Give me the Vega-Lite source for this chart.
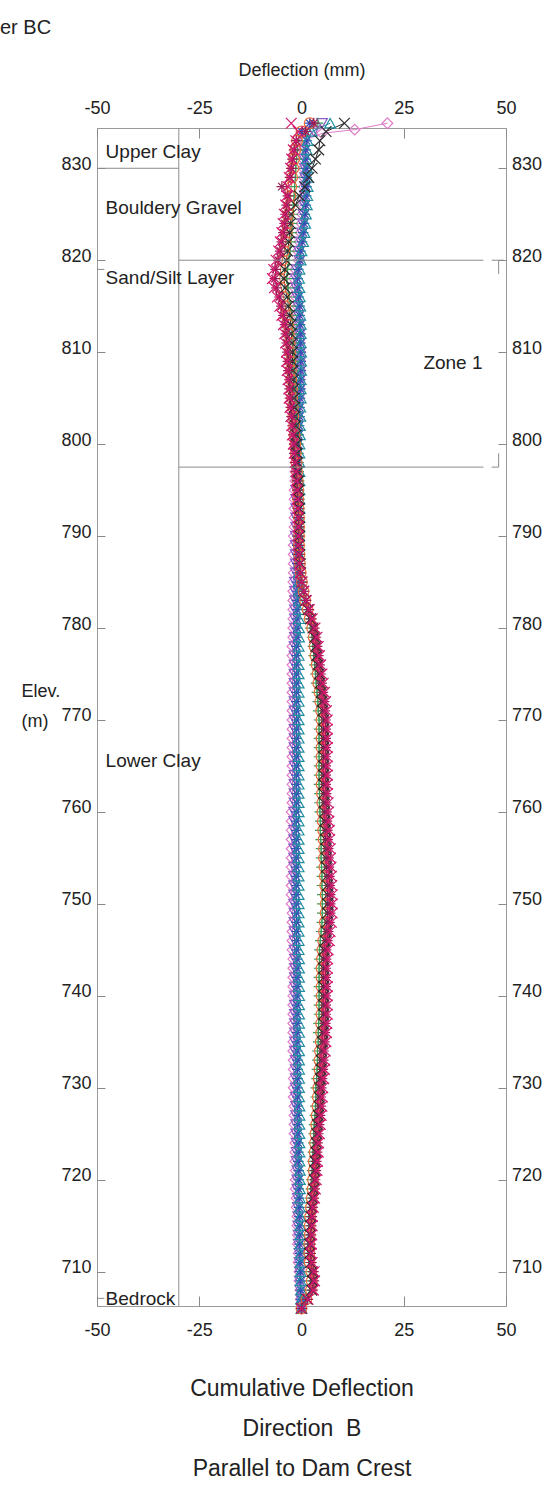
{
"$schema":"https://vega.github.io/schema/vega-lite/v6.json",
"autosize":{"type":"none"},
"padding":{"left":97,"top":128,"right":49,"bottom":185},
"width":409,
"height":1178,
"title":{"text":"er BC","anchor":"start","frame":"group","dx":-97,"offset":7,"fontSize":20,"fontWeight":"normal","font":"Liberation Sans","color":"#222","baseline":"alphabetic"},
"config":{"view":{"stroke":"#9a9a9a","strokeWidth":1},"font":"Liberation Sans"},
"data":{"values":[
{"s":"A","e":706,"d":0},{"s":"A","e":707,"d":-0.2},{"s":"A","e":708,"d":-0.3},{"s":"A","e":709,"d":-0.5},{"s":"A","e":710,"d":-0.5},{"s":"A","e":711,"d":-0.7},{"s":"A","e":712,"d":-0.7},{"s":"A","e":713,"d":-0.9},{"s":"A","e":714,"d":-0.9},{"s":"A","e":715,"d":-1.0},{"s":"A","e":716,"d":-1.0},{"s":"A","e":717,"d":-1.2},{"s":"A","e":718,"d":-1.2},{"s":"A","e":719,"d":-1.4},{"s":"A","e":720,"d":-1.4},{"s":"A","e":721,"d":-1.4},{"s":"A","e":722,"d":-1.5},{"s":"A","e":723,"d":-1.5},{"s":"A","e":724,"d":-1.5},{"s":"A","e":725,"d":-1.7},{"s":"A","e":726,"d":-1.7},{"s":"A","e":727,"d":-1.7},{"s":"A","e":728,"d":-1.7},{"s":"A","e":729,"d":-1.9},{"s":"A","e":730,"d":-1.9},{"s":"A","e":731,"d":-1.9},{"s":"A","e":732,"d":-1.9},{"s":"A","e":733,"d":-1.9},{"s":"A","e":734,"d":-2.0},{"s":"A","e":735,"d":-2.0},{"s":"A","e":736,"d":-2.0},{"s":"A","e":737,"d":-2.0},{"s":"A","e":738,"d":-2.0},{"s":"A","e":739,"d":-2.0},{"s":"A","e":740,"d":-2.0},{"s":"A","e":741,"d":-2.0},{"s":"A","e":742,"d":-2.0},{"s":"A","e":743,"d":-2.0},{"s":"A","e":744,"d":-2.0},{"s":"A","e":745,"d":-2.2},{"s":"A","e":746,"d":-2.2},{"s":"A","e":747,"d":-2.2},{"s":"A","e":748,"d":-2.2},{"s":"A","e":749,"d":-2.2},{"s":"A","e":750,"d":-2.4},{"s":"A","e":751,"d":-2.4},{"s":"A","e":752,"d":-2.4},{"s":"A","e":753,"d":-2.4},{"s":"A","e":754,"d":-2.4},{"s":"A","e":755,"d":-2.4},{"s":"A","e":756,"d":-2.4},{"s":"A","e":757,"d":-2.4},{"s":"A","e":758,"d":-2.4},{"s":"A","e":759,"d":-2.4},{"s":"A","e":760,"d":-2.4},{"s":"A","e":761,"d":-2.2},{"s":"A","e":762,"d":-2.2},{"s":"A","e":763,"d":-2.2},{"s":"A","e":764,"d":-2.2},{"s":"A","e":765,"d":-2.2},{"s":"A","e":766,"d":-2.2},{"s":"A","e":767,"d":-2.2},{"s":"A","e":768,"d":-2.2},{"s":"A","e":769,"d":-2.2},{"s":"A","e":770,"d":-2.2},{"s":"A","e":771,"d":-2.2},{"s":"A","e":772,"d":-2.2},{"s":"A","e":773,"d":-2.2},{"s":"A","e":774,"d":-2.2},{"s":"A","e":775,"d":-2.2},{"s":"A","e":776,"d":-2.2},{"s":"A","e":777,"d":-2.2},{"s":"A","e":778,"d":-2.2},{"s":"A","e":779,"d":-2.0},{"s":"A","e":780,"d":-2.0},{"s":"A","e":781,"d":-2.0},{"s":"A","e":782,"d":-2.0},{"s":"A","e":783,"d":-2.0},{"s":"A","e":784,"d":-2.0},{"s":"A","e":785,"d":-2.0},{"s":"A","e":786,"d":-1.9},{"s":"A","e":787,"d":-1.9},{"s":"A","e":788,"d":-1.9},{"s":"A","e":789,"d":-1.9},{"s":"A","e":790,"d":-1.9},{"s":"A","e":791,"d":-1.7},{"s":"A","e":792,"d":-1.7},{"s":"A","e":793,"d":-1.7},{"s":"A","e":794,"d":-1.7},{"s":"A","e":795,"d":-1.7},{"s":"A","e":796,"d":-1.5},{"s":"A","e":797,"d":-1.5},{"s":"A","e":798,"d":-1.5},{"s":"A","e":799,"d":-1.5},{"s":"A","e":800,"d":-1.5},{"s":"A","e":801,"d":-1.4},{"s":"A","e":802,"d":-1.2},{"s":"A","e":803,"d":-1.0},{"s":"A","e":804,"d":-0.9},{"s":"A","e":805,"d":-0.7},{"s":"A","e":806,"d":-0.5},{"s":"A","e":807,"d":-0.5},{"s":"A","e":808,"d":-0.3},{"s":"A","e":809,"d":-0.3},{"s":"A","e":810,"d":-0.3},{"s":"A","e":811,"d":-0.5},{"s":"A","e":812,"d":-0.5},{"s":"A","e":813,"d":-0.7},{"s":"A","e":814,"d":-0.9},{"s":"A","e":815,"d":-1.0},{"s":"A","e":816,"d":-1.4},{"s":"A","e":817,"d":-1.7},{"s":"A","e":818,"d":-1.9},{"s":"A","e":819,"d":-1.5},{"s":"A","e":820,"d":-0.7},{"s":"A","e":821,"d":-0.9},{"s":"A","e":822,"d":-0.5},{"s":"A","e":823,"d":-0.2},{"s":"A","e":824,"d":0},{"s":"A","e":825,"d":0.2},{"s":"A","e":826,"d":0.4},{"s":"A","e":827,"d":0.5},{"s":"A","e":828,"d":0.6},{"s":"A","e":829,"d":0.6},{"s":"A","e":830,"d":0.5},{"s":"A","e":831,"d":0.4},{"s":"A","e":832,"d":0.4},{"s":"A","e":833,"d":0.6},{"s":"A","e":833.8,"d":5},{"s":"A","e":834.2,"d":13},{"s":"A","e":834.9,"d":21},
{"s":"B","e":706,"d":0},{"s":"B","e":707,"d":-0.1},{"s":"B","e":708,"d":-0.3},{"s":"B","e":709,"d":-0.4},{"s":"B","e":710,"d":-0.4},{"s":"B","e":711,"d":-0.5},{"s":"B","e":712,"d":-0.5},{"s":"B","e":713,"d":-0.7},{"s":"B","e":714,"d":-0.7},{"s":"B","e":715,"d":-0.8},{"s":"B","e":716,"d":-0.8},{"s":"B","e":717,"d":-0.9},{"s":"B","e":718,"d":-0.9},{"s":"B","e":719,"d":-1.0},{"s":"B","e":720,"d":-1.0},{"s":"B","e":721,"d":-1.0},{"s":"B","e":722,"d":-1.2},{"s":"B","e":723,"d":-1.2},{"s":"B","e":724,"d":-1.2},{"s":"B","e":725,"d":-1.3},{"s":"B","e":726,"d":-1.3},{"s":"B","e":727,"d":-1.3},{"s":"B","e":728,"d":-1.3},{"s":"B","e":729,"d":-1.4},{"s":"B","e":730,"d":-1.4},{"s":"B","e":731,"d":-1.4},{"s":"B","e":732,"d":-1.4},{"s":"B","e":733,"d":-1.4},{"s":"B","e":734,"d":-1.6},{"s":"B","e":735,"d":-1.6},{"s":"B","e":736,"d":-1.6},{"s":"B","e":737,"d":-1.6},{"s":"B","e":738,"d":-1.6},{"s":"B","e":739,"d":-1.6},{"s":"B","e":740,"d":-1.6},{"s":"B","e":741,"d":-1.6},{"s":"B","e":742,"d":-1.6},{"s":"B","e":743,"d":-1.6},{"s":"B","e":744,"d":-1.6},{"s":"B","e":745,"d":-1.7},{"s":"B","e":746,"d":-1.7},{"s":"B","e":747,"d":-1.7},{"s":"B","e":748,"d":-1.7},{"s":"B","e":749,"d":-1.7},{"s":"B","e":750,"d":-1.8},{"s":"B","e":751,"d":-1.8},{"s":"B","e":752,"d":-1.8},{"s":"B","e":753,"d":-1.8},{"s":"B","e":754,"d":-1.8},{"s":"B","e":755,"d":-1.8},{"s":"B","e":756,"d":-1.8},{"s":"B","e":757,"d":-1.8},{"s":"B","e":758,"d":-1.8},{"s":"B","e":759,"d":-1.8},{"s":"B","e":760,"d":-1.8},{"s":"B","e":761,"d":-1.7},{"s":"B","e":762,"d":-1.7},{"s":"B","e":763,"d":-1.7},{"s":"B","e":764,"d":-1.7},{"s":"B","e":765,"d":-1.7},{"s":"B","e":766,"d":-1.7},{"s":"B","e":767,"d":-1.7},{"s":"B","e":768,"d":-1.7},{"s":"B","e":769,"d":-1.7},{"s":"B","e":770,"d":-1.7},{"s":"B","e":771,"d":-1.7},{"s":"B","e":772,"d":-1.7},{"s":"B","e":773,"d":-1.7},{"s":"B","e":774,"d":-1.7},{"s":"B","e":775,"d":-1.7},{"s":"B","e":776,"d":-1.7},{"s":"B","e":777,"d":-1.7},{"s":"B","e":778,"d":-1.7},{"s":"B","e":779,"d":-1.6},{"s":"B","e":780,"d":-1.6},{"s":"B","e":781,"d":-1.6},{"s":"B","e":782,"d":-1.6},{"s":"B","e":783,"d":-1.6},{"s":"B","e":784,"d":-1.6},{"s":"B","e":785,"d":-1.6},{"s":"B","e":786,"d":-1.4},{"s":"B","e":787,"d":-1.4},{"s":"B","e":788,"d":-1.4},{"s":"B","e":789,"d":-1.4},{"s":"B","e":790,"d":-1.4},{"s":"B","e":791,"d":-1.3},{"s":"B","e":792,"d":-1.3},{"s":"B","e":793,"d":-1.3},{"s":"B","e":794,"d":-1.3},{"s":"B","e":795,"d":-1.3},{"s":"B","e":796,"d":-1.2},{"s":"B","e":797,"d":-1.2},{"s":"B","e":798,"d":-1.2},{"s":"B","e":799,"d":-1.2},{"s":"B","e":800,"d":-1.2},{"s":"B","e":801,"d":-1.0},{"s":"B","e":802,"d":-0.9},{"s":"B","e":803,"d":-0.8},{"s":"B","e":804,"d":-0.7},{"s":"B","e":805,"d":-0.5},{"s":"B","e":806,"d":-0.4},{"s":"B","e":807,"d":-0.4},{"s":"B","e":808,"d":-0.3},{"s":"B","e":809,"d":-0.3},{"s":"B","e":810,"d":-0.3},{"s":"B","e":811,"d":-0.4},{"s":"B","e":812,"d":-0.4},{"s":"B","e":813,"d":-0.5},{"s":"B","e":814,"d":-0.7},{"s":"B","e":815,"d":-0.8},{"s":"B","e":816,"d":-1.0},{"s":"B","e":817,"d":-1.3},{"s":"B","e":818,"d":-1.4},{"s":"B","e":819,"d":-1.2},{"s":"B","e":820,"d":-0.5},{"s":"B","e":821,"d":-0.6},{"s":"B","e":822,"d":-0.2},{"s":"B","e":823,"d":0.1},{"s":"B","e":824,"d":0.3},{"s":"B","e":825,"d":0.5},{"s":"B","e":826,"d":0.7},{"s":"B","e":827,"d":0.8},{"s":"B","e":828,"d":0.9},{"s":"B","e":829,"d":0.9},{"s":"B","e":830,"d":0.8},{"s":"B","e":831,"d":0.7},{"s":"B","e":832,"d":0.7},{"s":"B","e":833,"d":0.9},{"s":"B","e":834,"d":3},{"s":"B","e":834.9,"d":5},
{"s":"C","e":706,"d":0},{"s":"C","e":707,"d":-0.1},{"s":"C","e":708,"d":-0.2},{"s":"C","e":709,"d":-0.3},{"s":"C","e":710,"d":-0.3},{"s":"C","e":711,"d":-0.4},{"s":"C","e":712,"d":-0.4},{"s":"C","e":713,"d":-0.5},{"s":"C","e":714,"d":-0.5},{"s":"C","e":715,"d":-0.5},{"s":"C","e":716,"d":-0.5},{"s":"C","e":717,"d":-0.6},{"s":"C","e":718,"d":-0.6},{"s":"C","e":719,"d":-0.7},{"s":"C","e":720,"d":-0.7},{"s":"C","e":721,"d":-0.7},{"s":"C","e":722,"d":-0.8},{"s":"C","e":723,"d":-0.8},{"s":"C","e":724,"d":-0.8},{"s":"C","e":725,"d":-0.9},{"s":"C","e":726,"d":-0.9},{"s":"C","e":727,"d":-0.9},{"s":"C","e":728,"d":-0.9},{"s":"C","e":729,"d":-1.0},{"s":"C","e":730,"d":-1.0},{"s":"C","e":731,"d":-1.0},{"s":"C","e":732,"d":-1.0},{"s":"C","e":733,"d":-1.0},{"s":"C","e":734,"d":-1.1},{"s":"C","e":735,"d":-1.1},{"s":"C","e":736,"d":-1.1},{"s":"C","e":737,"d":-1.1},{"s":"C","e":738,"d":-1.1},{"s":"C","e":739,"d":-1.1},{"s":"C","e":740,"d":-1.1},{"s":"C","e":741,"d":-1.1},{"s":"C","e":742,"d":-1.1},{"s":"C","e":743,"d":-1.1},{"s":"C","e":744,"d":-1.1},{"s":"C","e":745,"d":-1.2},{"s":"C","e":746,"d":-1.2},{"s":"C","e":747,"d":-1.2},{"s":"C","e":748,"d":-1.2},{"s":"C","e":749,"d":-1.2},{"s":"C","e":750,"d":-1.3},{"s":"C","e":751,"d":-1.3},{"s":"C","e":752,"d":-1.3},{"s":"C","e":753,"d":-1.3},{"s":"C","e":754,"d":-1.3},{"s":"C","e":755,"d":-1.3},{"s":"C","e":756,"d":-1.3},{"s":"C","e":757,"d":-1.3},{"s":"C","e":758,"d":-1.3},{"s":"C","e":759,"d":-1.3},{"s":"C","e":760,"d":-1.3},{"s":"C","e":761,"d":-1.2},{"s":"C","e":762,"d":-1.2},{"s":"C","e":763,"d":-1.2},{"s":"C","e":764,"d":-1.2},{"s":"C","e":765,"d":-1.2},{"s":"C","e":766,"d":-1.2},{"s":"C","e":767,"d":-1.2},{"s":"C","e":768,"d":-1.2},{"s":"C","e":769,"d":-1.2},{"s":"C","e":770,"d":-1.2},{"s":"C","e":771,"d":-1.2},{"s":"C","e":772,"d":-1.2},{"s":"C","e":773,"d":-1.2},{"s":"C","e":774,"d":-1.2},{"s":"C","e":775,"d":-1.2},{"s":"C","e":776,"d":-1.2},{"s":"C","e":777,"d":-1.2},{"s":"C","e":778,"d":-1.2},{"s":"C","e":779,"d":-1.1},{"s":"C","e":780,"d":-1.1},{"s":"C","e":781,"d":-1.1},{"s":"C","e":782,"d":-1.1},{"s":"C","e":783,"d":-1.1},{"s":"C","e":784,"d":-1.1},{"s":"C","e":785,"d":-1.1},{"s":"C","e":786,"d":-1.0},{"s":"C","e":787,"d":-1.0},{"s":"C","e":788,"d":-1.0},{"s":"C","e":789,"d":-1.0},{"s":"C","e":790,"d":-1.0},{"s":"C","e":791,"d":-0.9},{"s":"C","e":792,"d":-0.9},{"s":"C","e":793,"d":-0.9},{"s":"C","e":794,"d":-0.9},{"s":"C","e":795,"d":-0.9},{"s":"C","e":796,"d":-0.8},{"s":"C","e":797,"d":-0.8},{"s":"C","e":798,"d":-0.8},{"s":"C","e":799,"d":-0.8},{"s":"C","e":800,"d":-0.8},{"s":"C","e":801,"d":-0.7},{"s":"C","e":802,"d":-0.6},{"s":"C","e":803,"d":-0.5},{"s":"C","e":804,"d":-0.5},{"s":"C","e":805,"d":-0.4},{"s":"C","e":806,"d":-0.3},{"s":"C","e":807,"d":-0.3},{"s":"C","e":808,"d":-0.2},{"s":"C","e":809,"d":-0.2},{"s":"C","e":810,"d":-0.2},{"s":"C","e":811,"d":-0.3},{"s":"C","e":812,"d":-0.3},{"s":"C","e":813,"d":-0.4},{"s":"C","e":814,"d":-0.5},{"s":"C","e":815,"d":-0.5},{"s":"C","e":816,"d":-0.7},{"s":"C","e":817,"d":-0.9},{"s":"C","e":818,"d":-1.0},{"s":"C","e":819,"d":-0.8},{"s":"C","e":820,"d":-0.4},{"s":"C","e":821,"d":-0.3},{"s":"C","e":822,"d":0.1},{"s":"C","e":823,"d":0.4},{"s":"C","e":824,"d":0.6},{"s":"C","e":825,"d":0.8},{"s":"C","e":826,"d":1.0},{"s":"C","e":827,"d":1.1},{"s":"C","e":828,"d":1.2},{"s":"C","e":829,"d":1.2},{"s":"C","e":830,"d":1.1},{"s":"C","e":831,"d":1.0},{"s":"C","e":832,"d":1.0},{"s":"C","e":833,"d":1.2},{"s":"C","e":834,"d":0},{"s":"C","e":834.9,"d":2},
{"s":"D","e":706,"d":0},{"s":"D","e":707,"d":-0.1},{"s":"D","e":708,"d":-0.1},{"s":"D","e":709,"d":-0.2},{"s":"D","e":710,"d":-0.2},{"s":"D","e":711,"d":-0.2},{"s":"D","e":712,"d":-0.2},{"s":"D","e":713,"d":-0.3},{"s":"D","e":714,"d":-0.3},{"s":"D","e":715,"d":-0.3},{"s":"D","e":716,"d":-0.3},{"s":"D","e":717,"d":-0.4},{"s":"D","e":718,"d":-0.4},{"s":"D","e":719,"d":-0.4},{"s":"D","e":720,"d":-0.4},{"s":"D","e":721,"d":-0.4},{"s":"D","e":722,"d":-0.5},{"s":"D","e":723,"d":-0.5},{"s":"D","e":724,"d":-0.5},{"s":"D","e":725,"d":-0.5},{"s":"D","e":726,"d":-0.5},{"s":"D","e":727,"d":-0.5},{"s":"D","e":728,"d":-0.5},{"s":"D","e":729,"d":-0.6},{"s":"D","e":730,"d":-0.6},{"s":"D","e":731,"d":-0.6},{"s":"D","e":732,"d":-0.6},{"s":"D","e":733,"d":-0.6},{"s":"D","e":734,"d":-0.6},{"s":"D","e":735,"d":-0.6},{"s":"D","e":736,"d":-0.6},{"s":"D","e":737,"d":-0.6},{"s":"D","e":738,"d":-0.6},{"s":"D","e":739,"d":-0.6},{"s":"D","e":740,"d":-0.6},{"s":"D","e":741,"d":-0.6},{"s":"D","e":742,"d":-0.6},{"s":"D","e":743,"d":-0.6},{"s":"D","e":744,"d":-0.6},{"s":"D","e":745,"d":-0.7},{"s":"D","e":746,"d":-0.7},{"s":"D","e":747,"d":-0.7},{"s":"D","e":748,"d":-0.7},{"s":"D","e":749,"d":-0.7},{"s":"D","e":750,"d":-0.7},{"s":"D","e":751,"d":-0.7},{"s":"D","e":752,"d":-0.7},{"s":"D","e":753,"d":-0.7},{"s":"D","e":754,"d":-0.7},{"s":"D","e":755,"d":-0.7},{"s":"D","e":756,"d":-0.7},{"s":"D","e":757,"d":-0.7},{"s":"D","e":758,"d":-0.7},{"s":"D","e":759,"d":-0.7},{"s":"D","e":760,"d":-0.7},{"s":"D","e":761,"d":-0.7},{"s":"D","e":762,"d":-0.7},{"s":"D","e":763,"d":-0.7},{"s":"D","e":764,"d":-0.7},{"s":"D","e":765,"d":-0.7},{"s":"D","e":766,"d":-0.7},{"s":"D","e":767,"d":-0.7},{"s":"D","e":768,"d":-0.7},{"s":"D","e":769,"d":-0.7},{"s":"D","e":770,"d":-0.7},{"s":"D","e":771,"d":-0.7},{"s":"D","e":772,"d":-0.7},{"s":"D","e":773,"d":-0.7},{"s":"D","e":774,"d":-0.7},{"s":"D","e":775,"d":-0.7},{"s":"D","e":776,"d":-0.7},{"s":"D","e":777,"d":-0.7},{"s":"D","e":778,"d":-0.7},{"s":"D","e":779,"d":-0.6},{"s":"D","e":780,"d":-0.6},{"s":"D","e":781,"d":-0.6},{"s":"D","e":782,"d":-0.6},{"s":"D","e":783,"d":-0.6},{"s":"D","e":784,"d":-0.6},{"s":"D","e":785,"d":-0.6},{"s":"D","e":786,"d":-0.6},{"s":"D","e":787,"d":-0.6},{"s":"D","e":788,"d":-0.6},{"s":"D","e":789,"d":-0.6},{"s":"D","e":790,"d":-0.6},{"s":"D","e":791,"d":-0.5},{"s":"D","e":792,"d":-0.5},{"s":"D","e":793,"d":-0.5},{"s":"D","e":794,"d":-0.5},{"s":"D","e":795,"d":-0.5},{"s":"D","e":796,"d":-0.5},{"s":"D","e":797,"d":-0.5},{"s":"D","e":798,"d":-0.5},{"s":"D","e":799,"d":-0.5},{"s":"D","e":800,"d":-0.5},{"s":"D","e":801,"d":-0.4},{"s":"D","e":802,"d":-0.4},{"s":"D","e":803,"d":-0.3},{"s":"D","e":804,"d":-0.3},{"s":"D","e":805,"d":-0.2},{"s":"D","e":806,"d":-0.2},{"s":"D","e":807,"d":-0.2},{"s":"D","e":808,"d":-0.1},{"s":"D","e":809,"d":-0.1},{"s":"D","e":810,"d":-0.1},{"s":"D","e":811,"d":-0.2},{"s":"D","e":812,"d":-0.2},{"s":"D","e":813,"d":-0.2},{"s":"D","e":814,"d":-0.3},{"s":"D","e":815,"d":-0.3},{"s":"D","e":816,"d":-0.4},{"s":"D","e":817,"d":-0.5},{"s":"D","e":818,"d":-0.6},{"s":"D","e":819,"d":-0.5},{"s":"D","e":820,"d":-0.2},{"s":"D","e":821,"d":0},{"s":"D","e":822,"d":0.4},{"s":"D","e":823,"d":0.7},{"s":"D","e":824,"d":0.9},{"s":"D","e":825,"d":1.1},{"s":"D","e":826,"d":1.3},{"s":"D","e":827,"d":1.4},{"s":"D","e":828,"d":1.5},{"s":"D","e":829,"d":1.5},{"s":"D","e":830,"d":1.4},{"s":"D","e":831,"d":1.3},{"s":"D","e":832,"d":1.3},{"s":"D","e":833,"d":1.5},{"s":"D","e":834,"d":2.5},{"s":"D","e":834.9,"d":7},
{"s":"E","e":706,"d":0},{"s":"E","e":707,"d":1.1},{"s":"E","e":708,"d":2.0},{"s":"E","e":709,"d":2.2},{"s":"E","e":710,"d":2.1},{"s":"E","e":711,"d":1.8},{"s":"E","e":712,"d":1.6},{"s":"E","e":713,"d":1.6},{"s":"E","e":714,"d":1.7},{"s":"E","e":715,"d":1.8},{"s":"E","e":716,"d":1.8},{"s":"E","e":717,"d":2.0},{"s":"E","e":718,"d":2.2},{"s":"E","e":719,"d":2.3},{"s":"E","e":720,"d":2.4},{"s":"E","e":721,"d":2.6},{"s":"E","e":722,"d":2.7},{"s":"E","e":723,"d":2.8},{"s":"E","e":724,"d":2.9},{"s":"E","e":725,"d":3.0},{"s":"E","e":726,"d":3.1},{"s":"E","e":727,"d":3.3},{"s":"E","e":728,"d":3.4},{"s":"E","e":729,"d":3.5},{"s":"E","e":730,"d":3.5},{"s":"E","e":731,"d":3.7},{"s":"E","e":732,"d":3.8},{"s":"E","e":733,"d":3.9},{"s":"E","e":734,"d":3.9},{"s":"E","e":735,"d":4.1},{"s":"E","e":736,"d":4.1},{"s":"E","e":737,"d":4.2},{"s":"E","e":738,"d":4.3},{"s":"E","e":739,"d":4.3},{"s":"E","e":740,"d":4.3},{"s":"E","e":741,"d":4.3},{"s":"E","e":742,"d":4.3},{"s":"E","e":743,"d":4.3},{"s":"E","e":744,"d":4.4},{"s":"E","e":745,"d":4.4},{"s":"E","e":746,"d":4.6},{"s":"E","e":747,"d":4.8},{"s":"E","e":748,"d":5.0},{"s":"E","e":749,"d":5.1},{"s":"E","e":750,"d":5.1},{"s":"E","e":751,"d":5.1},{"s":"E","e":752,"d":5.0},{"s":"E","e":753,"d":5.0},{"s":"E","e":754,"d":4.9},{"s":"E","e":755,"d":4.8},{"s":"E","e":756,"d":4.8},{"s":"E","e":757,"d":4.7},{"s":"E","e":758,"d":4.6},{"s":"E","e":759,"d":4.6},{"s":"E","e":760,"d":4.5},{"s":"E","e":761,"d":4.4},{"s":"E","e":762,"d":4.4},{"s":"E","e":763,"d":4.3},{"s":"E","e":764,"d":4.3},{"s":"E","e":765,"d":4.3},{"s":"E","e":766,"d":4.3},{"s":"E","e":767,"d":4.3},{"s":"E","e":768,"d":4.3},{"s":"E","e":769,"d":4.3},{"s":"E","e":770,"d":4.3},{"s":"E","e":771,"d":4.1},{"s":"E","e":772,"d":4.0},{"s":"E","e":773,"d":3.8},{"s":"E","e":774,"d":3.6},{"s":"E","e":775,"d":3.4},{"s":"E","e":776,"d":3.2},{"s":"E","e":777,"d":3.0},{"s":"E","e":778,"d":2.8},{"s":"E","e":779,"d":2.6},{"s":"E","e":780,"d":2.2},{"s":"E","e":781,"d":1.8},{"s":"E","e":782,"d":1.3},{"s":"E","e":783,"d":0.8},{"s":"E","e":784,"d":0.4},{"s":"E","e":785,"d":0.1},{"s":"E","e":786,"d":-0.2},{"s":"E","e":787,"d":-0.3},{"s":"E","e":788,"d":-0.4},{"s":"E","e":789,"d":-0.4},{"s":"E","e":790,"d":-0.4},{"s":"E","e":791,"d":-0.4},{"s":"E","e":792,"d":-0.4},{"s":"E","e":793,"d":-0.5},{"s":"E","e":794,"d":-0.5},{"s":"E","e":795,"d":-0.6},{"s":"E","e":796,"d":-0.6},{"s":"E","e":797,"d":-0.7},{"s":"E","e":798,"d":-0.8},{"s":"E","e":799,"d":-0.9},{"s":"E","e":800,"d":-1.0},{"s":"E","e":801,"d":-1.1},{"s":"E","e":802,"d":-1.2},{"s":"E","e":803,"d":-1.3},{"s":"E","e":804,"d":-1.4},{"s":"E","e":805,"d":-1.5},{"s":"E","e":806,"d":-1.6},{"s":"E","e":807,"d":-1.7},{"s":"E","e":808,"d":-1.8},{"s":"E","e":809,"d":-1.8},{"s":"E","e":810,"d":-1.9},{"s":"E","e":811,"d":-2.0},{"s":"E","e":812,"d":-2.1},{"s":"E","e":813,"d":-2.2},{"s":"E","e":814,"d":-2.4},{"s":"E","e":815,"d":-2.7},{"s":"E","e":816,"d":-3.0},{"s":"E","e":817,"d":-3.3},{"s":"E","e":818,"d":-3.6},{"s":"E","e":819,"d":-3.4},{"s":"E","e":820,"d":-3.1},{"s":"E","e":821,"d":-2.8},{"s":"E","e":822,"d":-2.6},{"s":"E","e":823,"d":-2.4},{"s":"E","e":824,"d":-2.3},{"s":"E","e":825,"d":-2.1},{"s":"E","e":826,"d":-2.0},{"s":"E","e":827,"d":-1.8},{"s":"E","e":828,"d":-1.7},{"s":"E","e":829,"d":-1.5},{"s":"E","e":830,"d":-1.4},{"s":"E","e":831,"d":-1.2},{"s":"E","e":832,"d":-1.0},{"s":"E","e":833,"d":-0.7},{"s":"E","e":834,"d":1},{"s":"E","e":834.9,"d":4},
{"s":"F","e":706,"d":0},{"s":"F","e":707,"d":1.2},{"s":"F","e":708,"d":2.3},{"s":"F","e":709,"d":2.5},{"s":"F","e":710,"d":2.4},{"s":"F","e":711,"d":2.0},{"s":"F","e":712,"d":1.9},{"s":"F","e":713,"d":1.9},{"s":"F","e":714,"d":2.0},{"s":"F","e":715,"d":2.0},{"s":"F","e":716,"d":2.1},{"s":"F","e":717,"d":2.3},{"s":"F","e":718,"d":2.5},{"s":"F","e":719,"d":2.7},{"s":"F","e":720,"d":2.8},{"s":"F","e":721,"d":3.0},{"s":"F","e":722,"d":3.0},{"s":"F","e":723,"d":3.2},{"s":"F","e":724,"d":3.3},{"s":"F","e":725,"d":3.4},{"s":"F","e":726,"d":3.6},{"s":"F","e":727,"d":3.7},{"s":"F","e":728,"d":3.9},{"s":"F","e":729,"d":4.0},{"s":"F","e":730,"d":4.1},{"s":"F","e":731,"d":4.2},{"s":"F","e":732,"d":4.4},{"s":"F","e":733,"d":4.4},{"s":"F","e":734,"d":4.5},{"s":"F","e":735,"d":4.7},{"s":"F","e":736,"d":4.8},{"s":"F","e":737,"d":4.8},{"s":"F","e":738,"d":4.9},{"s":"F","e":739,"d":4.9},{"s":"F","e":740,"d":4.9},{"s":"F","e":741,"d":4.9},{"s":"F","e":742,"d":4.9},{"s":"F","e":743,"d":4.9},{"s":"F","e":744,"d":5.0},{"s":"F","e":745,"d":5.1},{"s":"F","e":746,"d":5.3},{"s":"F","e":747,"d":5.5},{"s":"F","e":748,"d":5.7},{"s":"F","e":749,"d":5.9},{"s":"F","e":750,"d":5.9},{"s":"F","e":751,"d":5.9},{"s":"F","e":752,"d":5.8},{"s":"F","e":753,"d":5.7},{"s":"F","e":754,"d":5.6},{"s":"F","e":755,"d":5.5},{"s":"F","e":756,"d":5.5},{"s":"F","e":757,"d":5.4},{"s":"F","e":758,"d":5.3},{"s":"F","e":759,"d":5.2},{"s":"F","e":760,"d":5.1},{"s":"F","e":761,"d":5.1},{"s":"F","e":762,"d":5.0},{"s":"F","e":763,"d":4.9},{"s":"F","e":764,"d":4.9},{"s":"F","e":765,"d":4.9},{"s":"F","e":766,"d":4.9},{"s":"F","e":767,"d":4.9},{"s":"F","e":768,"d":4.9},{"s":"F","e":769,"d":4.9},{"s":"F","e":770,"d":4.9},{"s":"F","e":771,"d":4.8},{"s":"F","e":772,"d":4.6},{"s":"F","e":773,"d":4.4},{"s":"F","e":774,"d":4.1},{"s":"F","e":775,"d":3.9},{"s":"F","e":776,"d":3.7},{"s":"F","e":777,"d":3.4},{"s":"F","e":778,"d":3.2},{"s":"F","e":779,"d":3.0},{"s":"F","e":780,"d":2.6},{"s":"F","e":781,"d":2.0},{"s":"F","e":782,"d":1.5},{"s":"F","e":783,"d":0.9},{"s":"F","e":784,"d":0.5},{"s":"F","e":785,"d":0.1},{"s":"F","e":786,"d":-0.2},{"s":"F","e":787,"d":-0.4},{"s":"F","e":788,"d":-0.5},{"s":"F","e":789,"d":-0.6},{"s":"F","e":790,"d":-0.6},{"s":"F","e":791,"d":-0.6},{"s":"F","e":792,"d":-0.6},{"s":"F","e":793,"d":-0.7},{"s":"F","e":794,"d":-0.8},{"s":"F","e":795,"d":-0.8},{"s":"F","e":796,"d":-0.9},{"s":"F","e":797,"d":-1.1},{"s":"F","e":798,"d":-1.2},{"s":"F","e":799,"d":-1.4},{"s":"F","e":800,"d":-1.5},{"s":"F","e":801,"d":-1.7},{"s":"F","e":802,"d":-1.8},{"s":"F","e":803,"d":-2.0},{"s":"F","e":804,"d":-2.1},{"s":"F","e":805,"d":-2.3},{"s":"F","e":806,"d":-2.3},{"s":"F","e":807,"d":-2.5},{"s":"F","e":808,"d":-2.6},{"s":"F","e":809,"d":-2.7},{"s":"F","e":810,"d":-2.8},{"s":"F","e":811,"d":-2.9},{"s":"F","e":812,"d":-3.1},{"s":"F","e":813,"d":-3.3},{"s":"F","e":814,"d":-3.6},{"s":"F","e":815,"d":-4.0},{"s":"F","e":816,"d":-4.4},{"s":"F","e":817,"d":-5.0},{"s":"F","e":818,"d":-5.3},{"s":"F","e":819,"d":-5.1},{"s":"F","e":820,"d":-4.7},{"s":"F","e":821,"d":-4.2},{"s":"F","e":822,"d":-3.9},{"s":"F","e":823,"d":-3.6},{"s":"F","e":824,"d":-3.4},{"s":"F","e":825,"d":-3.2},{"s":"F","e":826,"d":-2.9},{"s":"F","e":827,"d":-2.7},{"s":"F","e":828,"d":-2.5},{"s":"F","e":829,"d":-2.3},{"s":"F","e":830,"d":-2.0},{"s":"F","e":831,"d":-1.8},{"s":"F","e":832,"d":-1.5},{"s":"F","e":833,"d":-1.1},{"s":"F","e":834,"d":0},{"s":"F","e":834.9,"d":2},
{"s":"G","e":706,"d":0},{"s":"G","e":707,"d":1.4},{"s":"G","e":708,"d":2.5},{"s":"G","e":709,"d":2.7},{"s":"G","e":710,"d":2.6},{"s":"G","e":711,"d":2.2},{"s":"G","e":712,"d":2.0},{"s":"G","e":713,"d":2.0},{"s":"G","e":714,"d":2.1},{"s":"G","e":715,"d":2.2},{"s":"G","e":716,"d":2.3},{"s":"G","e":717,"d":2.5},{"s":"G","e":718,"d":2.7},{"s":"G","e":719,"d":2.9},{"s":"G","e":720,"d":3.1},{"s":"G","e":721,"d":3.2},{"s":"G","e":722,"d":3.3},{"s":"G","e":723,"d":3.5},{"s":"G","e":724,"d":3.6},{"s":"G","e":725,"d":3.7},{"s":"G","e":726,"d":3.9},{"s":"G","e":727,"d":4.1},{"s":"G","e":728,"d":4.3},{"s":"G","e":729,"d":4.3},{"s":"G","e":730,"d":4.4},{"s":"G","e":731,"d":4.6},{"s":"G","e":732,"d":4.8},{"s":"G","e":733,"d":4.8},{"s":"G","e":734,"d":4.9},{"s":"G","e":735,"d":5.1},{"s":"G","e":736,"d":5.2},{"s":"G","e":737,"d":5.3},{"s":"G","e":738,"d":5.4},{"s":"G","e":739,"d":5.4},{"s":"G","e":740,"d":5.4},{"s":"G","e":741,"d":5.4},{"s":"G","e":742,"d":5.4},{"s":"G","e":743,"d":5.4},{"s":"G","e":744,"d":5.4},{"s":"G","e":745,"d":5.5},{"s":"G","e":746,"d":5.8},{"s":"G","e":747,"d":6.0},{"s":"G","e":748,"d":6.2},{"s":"G","e":749,"d":6.4},{"s":"G","e":750,"d":6.4},{"s":"G","e":751,"d":6.4},{"s":"G","e":752,"d":6.3},{"s":"G","e":753,"d":6.2},{"s":"G","e":754,"d":6.1},{"s":"G","e":755,"d":6.0},{"s":"G","e":756,"d":6.0},{"s":"G","e":757,"d":5.9},{"s":"G","e":758,"d":5.8},{"s":"G","e":759,"d":5.7},{"s":"G","e":760,"d":5.6},{"s":"G","e":761,"d":5.5},{"s":"G","e":762,"d":5.4},{"s":"G","e":763,"d":5.4},{"s":"G","e":764,"d":5.4},{"s":"G","e":765,"d":5.4},{"s":"G","e":766,"d":5.4},{"s":"G","e":767,"d":5.4},{"s":"G","e":768,"d":5.4},{"s":"G","e":769,"d":5.4},{"s":"G","e":770,"d":5.4},{"s":"G","e":771,"d":5.2},{"s":"G","e":772,"d":5.0},{"s":"G","e":773,"d":4.8},{"s":"G","e":774,"d":4.5},{"s":"G","e":775,"d":4.3},{"s":"G","e":776,"d":4.0},{"s":"G","e":777,"d":3.7},{"s":"G","e":778,"d":3.5},{"s":"G","e":779,"d":3.2},{"s":"G","e":780,"d":2.8},{"s":"G","e":781,"d":2.2},{"s":"G","e":782,"d":1.6},{"s":"G","e":783,"d":1.0},{"s":"G","e":784,"d":0.5},{"s":"G","e":785,"d":0.1},{"s":"G","e":786,"d":-0.2},{"s":"G","e":787,"d":-0.3},{"s":"G","e":788,"d":-0.4},{"s":"G","e":789,"d":-0.5},{"s":"G","e":790,"d":-0.5},{"s":"G","e":791,"d":-0.5},{"s":"G","e":792,"d":-0.5},{"s":"G","e":793,"d":-0.5},{"s":"G","e":794,"d":-0.6},{"s":"G","e":795,"d":-0.7},{"s":"G","e":796,"d":-0.7},{"s":"G","e":797,"d":-0.8},{"s":"G","e":798,"d":-1.0},{"s":"G","e":799,"d":-1.1},{"s":"G","e":800,"d":-1.2},{"s":"G","e":801,"d":-1.3},{"s":"G","e":802,"d":-1.4},{"s":"G","e":803,"d":-1.6},{"s":"G","e":804,"d":-1.7},{"s":"G","e":805,"d":-1.8},{"s":"G","e":806,"d":-1.9},{"s":"G","e":807,"d":-2.0},{"s":"G","e":808,"d":-2.1},{"s":"G","e":809,"d":-2.2},{"s":"G","e":810,"d":-2.2},{"s":"G","e":811,"d":-2.3},{"s":"G","e":812,"d":-2.5},{"s":"G","e":813,"d":-2.6},{"s":"G","e":814,"d":-2.9},{"s":"G","e":815,"d":-3.2},{"s":"G","e":816,"d":-3.5},{"s":"G","e":817,"d":-4.0},{"s":"G","e":818,"d":-4.3},{"s":"G","e":819,"d":-4.1},{"s":"G","e":820,"d":-3.7},{"s":"G","e":821,"d":-3.4},{"s":"G","e":822,"d":-3.1},{"s":"G","e":823,"d":-2.9},{"s":"G","e":824,"d":-2.7},{"s":"G","e":825,"d":-2.5},{"s":"G","e":826,"d":-1.5},{"s":"G","e":827,"d":-0.5},{"s":"G","e":828,"d":0.8},{"s":"G","e":829,"d":1.8},{"s":"G","e":830,"d":2.6},{"s":"G","e":831,"d":3.4},{"s":"G","e":832,"d":4.2},{"s":"G","e":833,"d":4.5},{"s":"G","e":834,"d":6},{"s":"G","e":834.9,"d":10.5},
{"s":"H","e":706,"d":0},{"s":"H","e":707,"d":1.5},{"s":"H","e":708,"d":2.7},{"s":"H","e":709,"d":3.0},{"s":"H","e":710,"d":2.9},{"s":"H","e":711,"d":2.4},{"s":"H","e":712,"d":2.2},{"s":"H","e":713,"d":2.2},{"s":"H","e":714,"d":2.3},{"s":"H","e":715,"d":2.4},{"s":"H","e":716,"d":2.5},{"s":"H","e":717,"d":2.7},{"s":"H","e":718,"d":3.0},{"s":"H","e":719,"d":3.2},{"s":"H","e":720,"d":3.3},{"s":"H","e":721,"d":3.5},{"s":"H","e":722,"d":3.6},{"s":"H","e":723,"d":3.8},{"s":"H","e":724,"d":3.9},{"s":"H","e":725,"d":4.1},{"s":"H","e":726,"d":4.3},{"s":"H","e":727,"d":4.5},{"s":"H","e":728,"d":4.7},{"s":"H","e":729,"d":4.7},{"s":"H","e":730,"d":4.8},{"s":"H","e":731,"d":5.0},{"s":"H","e":732,"d":5.2},{"s":"H","e":733,"d":5.3},{"s":"H","e":734,"d":5.4},{"s":"H","e":735,"d":5.6},{"s":"H","e":736,"d":5.7},{"s":"H","e":737,"d":5.8},{"s":"H","e":738,"d":5.9},{"s":"H","e":739,"d":5.9},{"s":"H","e":740,"d":5.9},{"s":"H","e":741,"d":5.9},{"s":"H","e":742,"d":5.9},{"s":"H","e":743,"d":5.9},{"s":"H","e":744,"d":6.0},{"s":"H","e":745,"d":6.0},{"s":"H","e":746,"d":6.3},{"s":"H","e":747,"d":6.5},{"s":"H","e":748,"d":6.8},{"s":"H","e":749,"d":7.0},{"s":"H","e":750,"d":7.0},{"s":"H","e":751,"d":7.0},{"s":"H","e":752,"d":6.9},{"s":"H","e":753,"d":6.8},{"s":"H","e":754,"d":6.7},{"s":"H","e":755,"d":6.6},{"s":"H","e":756,"d":6.5},{"s":"H","e":757,"d":6.4},{"s":"H","e":758,"d":6.3},{"s":"H","e":759,"d":6.2},{"s":"H","e":760,"d":6.1},{"s":"H","e":761,"d":6.0},{"s":"H","e":762,"d":6.0},{"s":"H","e":763,"d":5.9},{"s":"H","e":764,"d":5.9},{"s":"H","e":765,"d":5.9},{"s":"H","e":766,"d":5.9},{"s":"H","e":767,"d":5.9},{"s":"H","e":768,"d":5.9},{"s":"H","e":769,"d":5.9},{"s":"H","e":770,"d":5.9},{"s":"H","e":771,"d":5.7},{"s":"H","e":772,"d":5.5},{"s":"H","e":773,"d":5.2},{"s":"H","e":774,"d":4.9},{"s":"H","e":775,"d":4.7},{"s":"H","e":776,"d":4.4},{"s":"H","e":777,"d":4.1},{"s":"H","e":778,"d":3.8},{"s":"H","e":779,"d":3.5},{"s":"H","e":780,"d":3.1},{"s":"H","e":781,"d":2.4},{"s":"H","e":782,"d":1.8},{"s":"H","e":783,"d":1.1},{"s":"H","e":784,"d":0.6},{"s":"H","e":785,"d":0.1},{"s":"H","e":786,"d":-0.3},{"s":"H","e":787,"d":-0.5},{"s":"H","e":788,"d":-0.6},{"s":"H","e":789,"d":-0.7},{"s":"H","e":790,"d":-0.7},{"s":"H","e":791,"d":-0.7},{"s":"H","e":792,"d":-0.7},{"s":"H","e":793,"d":-0.8},{"s":"H","e":794,"d":-0.9},{"s":"H","e":795,"d":-1.0},{"s":"H","e":796,"d":-1.1},{"s":"H","e":797,"d":-1.3},{"s":"H","e":798,"d":-1.5},{"s":"H","e":799,"d":-1.7},{"s":"H","e":800,"d":-1.8},{"s":"H","e":801,"d":-2.0},{"s":"H","e":802,"d":-2.2},{"s":"H","e":803,"d":-2.4},{"s":"H","e":804,"d":-2.6},{"s":"H","e":805,"d":-2.8},{"s":"H","e":806,"d":-2.9},{"s":"H","e":807,"d":-3.0},{"s":"H","e":808,"d":-3.2},{"s":"H","e":809,"d":-3.3},{"s":"H","e":810,"d":-3.4},{"s":"H","e":811,"d":-3.6},{"s":"H","e":812,"d":-3.8},{"s":"H","e":813,"d":-4.0},{"s":"H","e":814,"d":-4.4},{"s":"H","e":815,"d":-4.9},{"s":"H","e":816,"d":-5.4},{"s":"H","e":817,"d":-6.1},{"s":"H","e":818,"d":-6.5},{"s":"H","e":819,"d":-6.3},{"s":"H","e":820,"d":-5.7},{"s":"H","e":821,"d":-5.2},{"s":"H","e":822,"d":-4.8},{"s":"H","e":823,"d":-4.4},{"s":"H","e":824,"d":-4.1},{"s":"H","e":825,"d":-3.9},{"s":"H","e":826,"d":-3.6},{"s":"H","e":827,"d":-3.3},{"s":"H","e":828,"d":-4.8},{"s":"H","e":829,"d":-2.8},{"s":"H","e":830,"d":-2.5},{"s":"H","e":831,"d":-2.2},{"s":"H","e":832,"d":-1.8},{"s":"H","e":833,"d":-1.3},{"s":"H","e":834,"d":1},{"s":"H","e":834.9,"d":3},
{"s":"I","e":706,"d":0},{"s":"I","e":707,"d":1.6},{"s":"I","e":708,"d":2.9},{"s":"I","e":709,"d":3.2},{"s":"I","e":710,"d":3.1},{"s":"I","e":711,"d":2.6},{"s":"I","e":712,"d":2.4},{"s":"I","e":713,"d":2.4},{"s":"I","e":714,"d":2.5},{"s":"I","e":715,"d":2.6},{"s":"I","e":716,"d":2.7},{"s":"I","e":717,"d":2.9},{"s":"I","e":718,"d":3.2},{"s":"I","e":719,"d":3.4},{"s":"I","e":720,"d":3.6},{"s":"I","e":721,"d":3.8},{"s":"I","e":722,"d":3.9},{"s":"I","e":723,"d":4.1},{"s":"I","e":724,"d":4.2},{"s":"I","e":725,"d":4.4},{"s":"I","e":726,"d":4.6},{"s":"I","e":727,"d":4.8},{"s":"I","e":728,"d":5.0},{"s":"I","e":729,"d":5.1},{"s":"I","e":730,"d":5.2},{"s":"I","e":731,"d":5.4},{"s":"I","e":732,"d":5.6},{"s":"I","e":733,"d":5.7},{"s":"I","e":734,"d":5.8},{"s":"I","e":735,"d":6.0},{"s":"I","e":736,"d":6.1},{"s":"I","e":737,"d":6.2},{"s":"I","e":738,"d":6.3},{"s":"I","e":739,"d":6.3},{"s":"I","e":740,"d":6.3},{"s":"I","e":741,"d":6.3},{"s":"I","e":742,"d":6.3},{"s":"I","e":743,"d":6.3},{"s":"I","e":744,"d":6.4},{"s":"I","e":745,"d":6.5},{"s":"I","e":746,"d":6.8},{"s":"I","e":747,"d":7.0},{"s":"I","e":748,"d":7.3},{"s":"I","e":749,"d":7.5},{"s":"I","e":750,"d":7.5},{"s":"I","e":751,"d":7.5},{"s":"I","e":752,"d":7.4},{"s":"I","e":753,"d":7.3},{"s":"I","e":754,"d":7.2},{"s":"I","e":755,"d":7.1},{"s":"I","e":756,"d":7.0},{"s":"I","e":757,"d":6.9},{"s":"I","e":758,"d":6.8},{"s":"I","e":759,"d":6.7},{"s":"I","e":760,"d":6.6},{"s":"I","e":761,"d":6.5},{"s":"I","e":762,"d":6.4},{"s":"I","e":763,"d":6.3},{"s":"I","e":764,"d":6.3},{"s":"I","e":765,"d":6.3},{"s":"I","e":766,"d":6.3},{"s":"I","e":767,"d":6.3},{"s":"I","e":768,"d":6.3},{"s":"I","e":769,"d":6.3},{"s":"I","e":770,"d":6.3},{"s":"I","e":771,"d":6.1},{"s":"I","e":772,"d":5.9},{"s":"I","e":773,"d":5.6},{"s":"I","e":774,"d":5.3},{"s":"I","e":775,"d":5.0},{"s":"I","e":776,"d":4.7},{"s":"I","e":777,"d":4.4},{"s":"I","e":778,"d":4.1},{"s":"I","e":779,"d":3.8},{"s":"I","e":780,"d":3.3},{"s":"I","e":781,"d":2.6},{"s":"I","e":782,"d":1.9},{"s":"I","e":783,"d":1.2},{"s":"I","e":784,"d":0.6},{"s":"I","e":785,"d":0.1},{"s":"I","e":786,"d":-0.3},{"s":"I","e":787,"d":-0.5},{"s":"I","e":788,"d":-0.7},{"s":"I","e":789,"d":-0.8},{"s":"I","e":790,"d":-0.8},{"s":"I","e":791,"d":-0.8},{"s":"I","e":792,"d":-0.8},{"s":"I","e":793,"d":-0.9},{"s":"I","e":794,"d":-1.0},{"s":"I","e":795,"d":-1.1},{"s":"I","e":796,"d":-1.2},{"s":"I","e":797,"d":-1.4},{"s":"I","e":798,"d":-1.6},{"s":"I","e":799,"d":-1.8},{"s":"I","e":800,"d":-2.0},{"s":"I","e":801,"d":-2.2},{"s":"I","e":802,"d":-2.4},{"s":"I","e":803,"d":-2.6},{"s":"I","e":804,"d":-2.8},{"s":"I","e":805,"d":-3.0},{"s":"I","e":806,"d":-3.1},{"s":"I","e":807,"d":-3.3},{"s":"I","e":808,"d":-3.5},{"s":"I","e":809,"d":-3.6},{"s":"I","e":810,"d":-3.7},{"s":"I","e":811,"d":-3.9},{"s":"I","e":812,"d":-4.1},{"s":"I","e":813,"d":-4.4},{"s":"I","e":814,"d":-4.8},{"s":"I","e":815,"d":-5.3},{"s":"I","e":816,"d":-5.9},{"s":"I","e":817,"d":-6.6},{"s":"I","e":818,"d":-7.1},{"s":"I","e":819,"d":-6.8},{"s":"I","e":820,"d":-6.2},{"s":"I","e":821,"d":-5.6},{"s":"I","e":822,"d":-5.2},{"s":"I","e":823,"d":-4.8},{"s":"I","e":824,"d":-4.5},{"s":"I","e":825,"d":-4.2},{"s":"I","e":826,"d":-3.9},{"s":"I","e":827,"d":-3.6},{"s":"I","e":828,"d":-3.3},{"s":"I","e":829,"d":-3.0},{"s":"I","e":830,"d":-2.7},{"s":"I","e":831,"d":-2.4},{"s":"I","e":832,"d":-2.0},{"s":"I","e":833,"d":-1.4},{"s":"I","e":834,"d":-0.8},{"s":"I","e":834.9,"d":-2.5}
]},
"layer":[
{"mark":{"type":"line","strokeWidth":1,"clip":false},
 "encoding":{
  "x":{"field":"d","type":"quantitative","scale":{"domain":[-50,50],"nice":false,"zero":false},
   "axis":{"orient":"bottom","values":[-50,-25,0,25,50],"labelExpr":"datum.value + ''","grid":false,"domain":false,"tickSize":-10,"tickColor":"#8a8a8a","labelPadding":39,"labelBaseline":"alphabetic","labelFlush":false,"labelFontSize":18,"labelColor":"#222","labelFont":"Liberation Sans",
    "title":["Cumulative Deflection","Direction\u00a0 B","Parallel to Dam Crest"],"titleFontSize":23,"titleFontWeight":"normal","titleFont":"Liberation Sans","titleColor":"#222","titleBaseline":"alphabetic","titleLineHeight":40,"titleY":89,"titleX":204.5,"titleAlign":"center"}},
  "y":{"field":"e","type":"quantitative","scale":{"domain":[706.27,834.38],"nice":false,"zero":false},
   "axis":{"orient":"left","values":[710,720,730,740,750,760,770,780,790,800,810,820,830],"grid":false,"domain":false,"tickSize":-8,"tickColor":"#8a8a8a","labelPadding":14,"labelBaseline":"alphabetic","labelOffset":1,"labelFontSize":18,"labelColor":"#222","labelFont":"Liberation Sans",
    "title":["Elev.","(m)"],"titleAngle":0,"titleAlign":"left","titleBaseline":"alphabetic","titleX":-76,"titleY":568,"titleLineHeight":30,"titleFontSize":18,"titleFontWeight":"normal","titleFont":"Liberation Sans","titleColor":"#222"}},
  "color":{"field":"s","type":"nominal","scale":{"domain":["A","B","C","D","E","F","G","H","I"],"range":["#e07cc8","#8b5cc2","#3550b4","#1f8fa0","#3c9c58","#ec6a3c","#2b2b2b","#981c58","#d3186c"]},"legend":null},
  "order":{"field":"e","type":"quantitative"}
 }},
{"mark":{"type":"point","filled":false,"size":115,"strokeWidth":1.2,"opacity":1,"clip":false},
 "encoding":{
  "x":{"field":"d","type":"quantitative",
   "axis":{"orient":"top","values":[-50,-25,0,25,50],"labelExpr":"datum.value + ''","grid":false,"domain":false,"tickSize":-10,"tickColor":"#8a8a8a","labelPadding":25,"labelBaseline":"alphabetic","labelFlush":false,"labelFontSize":18,"labelColor":"#222","labelFont":"Liberation Sans",
    "title":"Deflection (mm)","titleFontSize":18,"titleFontWeight":"normal","titleFont":"Liberation Sans","titleColor":"#222","titleBaseline":"alphabetic","titleY":-53}},
  "y":{"field":"e","type":"quantitative",
   "axis":{"orient":"right","values":[710,720,730,740,750,760,770,780,790,800,810,820,830],"grid":false,"domain":false,"tickSize":-8,"tickColor":"#8a8a8a","labelPadding":13.5,"labelBaseline":"alphabetic","labelOffset":1,"labelFontSize":18,"labelColor":"#222","labelFont":"Liberation Sans","title":null}},
  "color":{"field":"s","type":"nominal","legend":null},
  "shape":{"field":"s","type":"nominal","scale":{"domain":["A","B","C","D","E","F","G","H","I"],"range":["diamond","triangle-down","M-1,0L1,0M0,-1L0,1M-0.7,-0.7L0.7,0.7M-0.7,0.7L0.7,-0.7","triangle-up","M-1,0L1,0M0,-1L0,1","circle","M-1,-1L1,1M-1,1L1,-1","M-1,0L1,0M0,-1L0,1M-0.7,-0.7L0.7,0.7M-0.7,0.7L0.7,-0.7","M-1,-1L1,1M-1,1L1,-1"]},"legend":null}
 }},
{"data":{"values":[
  {"x":-30,"x2":-30,"y":706.27,"y2":834.38},
  {"x":-50,"x2":-30,"y":830,"y2":830},
  {"x":-50,"x2":-48.2,"y":819,"y2":819},
  {"x":-30,"x2":44.5,"y":820,"y2":820},
  {"x":46.5,"x2":49.5,"y":820,"y2":820},
  {"x":48.2,"x2":48.2,"y":818.5,"y2":820},
  {"x":-30,"x2":44.5,"y":797.5,"y2":797.5},
  {"x":46.5,"x2":48.2,"y":797.5,"y2":797.5},
  {"x":48.2,"x2":48.2,"y":797.5,"y2":799},
  {"x":-50,"x2":-48.2,"y":707.1,"y2":707.1}
 ]},
 "mark":{"type":"rule","color":"#8c8c8c","strokeWidth":1},
 "encoding":{
  "x":{"field":"x","type":"quantitative","axis":null},
  "x2":{"field":"x2"},
  "y":{"field":"y","type":"quantitative","axis":null},
  "y2":{"field":"y2"}
 }},
{"data":{"values":[
  {"t":"Upper Clay","x":-47.9,"y":831.1},
  {"t":"Bouldery Gravel","x":-47.9,"y":825.0},
  {"t":"Sand/Silt Layer","x":-47.9,"y":817.4},
  {"t":"Zone 1","x":29.8,"y":808.2},
  {"t":"Lower Clay","x":-47.9,"y":764.9},
  {"t":"Bedrock","x":-47.9,"y":706.4}
 ]},
 "mark":{"type":"text","align":"left","baseline":"alphabetic","fontSize":19,"font":"Liberation Sans","color":"#222"},
 "encoding":{
  "x":{"field":"x","type":"quantitative","axis":null},
  "y":{"field":"y","type":"quantitative","axis":null},
  "text":{"field":"t"}
 }}
],
"resolve":{"axis":{"x":"independent","y":"independent"}}
}
